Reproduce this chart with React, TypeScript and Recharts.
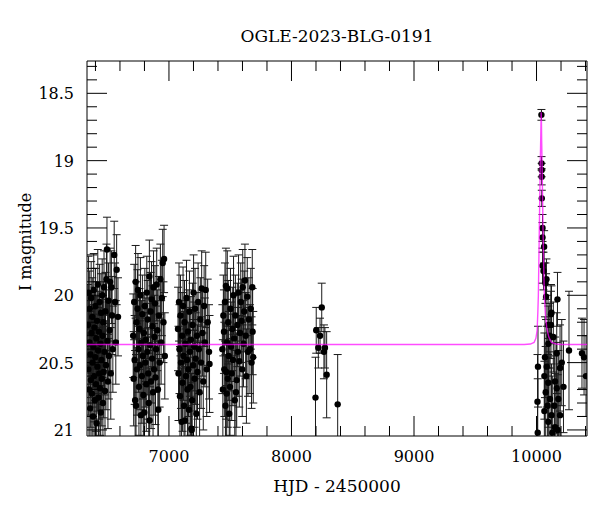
import React from 'react';
import { ScatterChart, Scatter, XAxis, YAxis, ErrorBar } from 'recharts';

const FONT = '"DejaVu Serif", "Liberation Serif", serif';

// [HJD - 2450000, I mag, error]
const season2013 = [
  [6338, 20.22, 0.30], [6341, 20.55, 0.34], [6344, 19.98, 0.27], [6347, 20.70, 0.36],
  [6350, 20.35, 0.31], [6353, 20.10, 0.28], [6356, 20.84, 0.38], [6359, 20.44, 0.32],
  [6362, 20.63, 0.35], [6365, 20.02, 0.27], [6368, 20.28, 0.30], [6371, 20.73, 0.36],
  [6374, 20.16, 0.29], [6377, 20.50, 0.33], [6380, 20.90, 0.39], [6383, 20.38, 0.31],
  [6386, 19.96, 0.27], [6389, 20.60, 0.34], [6392, 20.24, 0.30], [6395, 20.78, 0.37],
  [6398, 20.46, 0.32], [6401, 20.08, 0.28], [6404, 20.66, 0.35], [6407, 20.32, 0.31],
  [6410, 20.95, 0.40], [6413, 20.19, 0.29], [6416, 20.53, 0.33], [6419, 19.92, 0.26],
  [6422, 20.41, 0.32], [6425, 20.76, 0.37], [6428, 20.27, 0.30], [6431, 20.58, 0.34],
  [6434, 20.05, 0.28], [6437, 20.69, 0.35], [6440, 20.36, 0.31], [6443, 20.87, 0.38],
  [6446, 20.13, 0.29], [6449, 20.48, 0.33], [6452, 20.62, 0.35], [6455, 20.00, 0.27],
  [6458, 20.30, 0.31], [6461, 20.80, 0.37], [6464, 20.20, 0.30], [6467, 20.57, 0.34],
  [6470, 19.94, 0.27], [6474, 20.42, 0.32], [6478, 20.71, 0.36], [6482, 20.12, 0.29],
  [6486, 20.52, 0.33], [6490, 19.88, 0.26], [6494, 19.66, 0.24], [6498, 20.34, 0.31],
  [6502, 20.64, 0.35], [6506, 20.04, 0.28], [6510, 20.45, 0.32], [6515, 20.26, 0.30],
  [6520, 19.90, 0.25], [6525, 20.58, 0.34], [6530, 19.94, 0.27], [6536, 20.15, 0.29],
  [6542, 20.40, 0.32], [6553, 19.70, 0.25], [6560, 20.05, 0.29], [6566, 20.35, 0.31],
  [6573, 19.81, 0.26], [6584, 20.16, 0.29],
];

const season2014 = [
  [6708, 20.30, 0.31], [6712, 20.62, 0.35], [6716, 20.05, 0.28], [6720, 20.48, 0.33],
  [6724, 20.78, 0.37], [6728, 19.90, 0.27], [6731, 20.82, 0.38], [6735, 20.20, 0.30],
  [6739, 20.55, 0.34], [6743, 20.10, 0.29], [6747, 19.96, 0.27], [6751, 20.40, 0.32],
  [6755, 20.68, 0.36], [6759, 20.25, 0.30], [6763, 20.52, 0.33], [6767, 20.00, 0.28],
  [6771, 20.89, 0.39], [6775, 20.35, 0.31], [6779, 20.60, 0.35], [6783, 20.14, 0.29],
  [6787, 20.45, 0.32], [6791, 20.74, 0.37], [6795, 20.28, 0.30], [6799, 20.87, 0.38],
  [6803, 20.08, 0.28], [6807, 20.50, 0.33], [6811, 20.33, 0.31], [6815, 20.66, 0.35],
  [6819, 19.98, 0.27], [6823, 20.42, 0.32], [6827, 20.18, 0.29], [6831, 20.58, 0.34],
  [6835, 20.80, 0.37], [6840, 19.86, 0.27], [6842, 20.93, 0.39], [6846, 20.37, 0.31],
  [6850, 20.12, 0.29], [6854, 20.64, 0.35], [6858, 20.03, 0.28], [6862, 20.47, 0.33],
  [6866, 20.23, 0.30], [6870, 20.72, 0.36], [6874, 19.94, 0.27], [6878, 20.55, 0.34],
  [6882, 20.31, 0.31], [6886, 20.06, 0.28], [6890, 20.61, 0.35], [6895, 20.40, 0.32],
  [6900, 19.92, 0.27], [6905, 20.26, 0.30], [6910, 20.70, 0.36], [6913, 20.85, 0.38],
  [6918, 20.15, 0.29], [6924, 20.50, 0.33], [6930, 19.88, 0.26], [6936, 20.35, 0.31],
  [6942, 20.02, 0.28], [6949, 19.76, 0.25], [6955, 20.20, 0.30], [6960, 19.73, 0.25],
  [6966, 20.45, 0.32],
];

const season2015 = [
  [7074, 20.25, 0.31], [7078, 20.58, 0.35], [7082, 20.05, 0.29], [7086, 20.40, 0.33],
  [7090, 20.75, 0.37], [7094, 20.15, 0.30], [7098, 20.50, 0.34], [7103, 20.94, 0.40],
  [7107, 20.30, 0.32], [7111, 20.65, 0.36], [7115, 20.08, 0.29], [7119, 20.45, 0.33],
  [7123, 20.82, 0.38], [7127, 20.20, 0.31], [7131, 20.93, 0.40], [7135, 20.36, 0.32],
  [7139, 20.60, 0.35], [7143, 20.02, 0.28], [7147, 20.48, 0.34], [7151, 20.70, 0.37],
  [7155, 20.27, 0.31], [7159, 20.55, 0.35], [7163, 20.85, 0.39], [7167, 20.12, 0.30],
  [7171, 20.42, 0.33], [7175, 20.68, 0.36], [7179, 20.33, 0.32], [7183, 20.99, 0.41],
  [7186, 21.00, 0.42], [7189, 20.78, 0.38], [7193, 20.22, 0.31], [7197, 20.52, 0.34],
  [7201, 19.98, 0.28], [7205, 20.38, 0.33], [7209, 20.62, 0.36], [7213, 20.10, 0.30],
  [7218, 20.47, 0.34], [7223, 20.88, 0.39], [7228, 20.30, 0.32], [7233, 20.57, 0.35],
  [7238, 20.05, 0.29], [7244, 20.40, 0.33], [7250, 20.72, 0.37], [7256, 20.18, 0.31],
  [7262, 20.50, 0.34], [7267, 19.95, 0.28], [7273, 20.28, 0.32], [7280, 20.64, 0.36],
  [7287, 20.08, 0.30], [7293, 20.35, 0.33], [7300, 19.96, 0.28], [7308, 20.55, 0.35],
  [7316, 20.20, 0.32], [7327, 20.42, 0.35], [7331, 20.51, 0.36],
];

const season2016 = [
  [7436, 20.40, 0.33], [7440, 20.70, 0.37], [7444, 20.15, 0.30], [7449, 20.27, 0.31],
  [7452, 20.55, 0.35], [7457, 20.05, 0.29], [7461, 20.82, 0.38], [7465, 19.93, 0.28],
  [7468, 20.57, 0.35], [7471, 20.73, 0.37], [7474, 20.35, 0.32], [7476, 19.95, 0.28],
  [7480, 20.62, 0.36], [7484, 20.20, 0.31], [7488, 20.45, 0.33], [7492, 20.88, 0.39],
  [7498, 20.68, 0.36], [7502, 20.10, 0.30], [7507, 20.38, 0.33], [7512, 20.58, 0.35],
  [7517, 20.25, 0.31], [7522, 20.48, 0.34], [7527, 20.00, 0.29], [7532, 20.32, 0.32],
  [7537, 20.78, 0.37], [7542, 20.15, 0.30], [7547, 20.72, 0.36], [7553, 20.63, 0.35],
  [7558, 20.22, 0.31], [7563, 20.42, 0.33], [7568, 19.98, 0.28], [7574, 20.49, 0.34],
  [7580, 20.28, 0.32], [7586, 20.05, 0.29], [7593, 20.19, 0.31], [7598, 20.55, 0.35],
  [7602, 19.94, 0.28], [7608, 20.36, 0.32], [7614, 20.12, 0.30], [7620, 19.89, 0.27],
  [7626, 20.30, 0.32], [7632, 20.60, 0.35], [7639, 20.01, 0.29], [7645, 20.42, 0.33],
  [7652, 20.18, 0.31], [7661, 20.40, 0.33], [7668, 20.10, 0.30], [7674, 20.50, 0.34],
  [7680, 19.94, 0.28], [7683, 20.27, 0.32], [7688, 20.46, 0.34],
];

const season2018 = [
  [8196, 20.76, 0.30], [8202, 20.26, 0.17], [8219, 20.39, 0.15], [8233, 20.30, 0.13],
  [8247, 20.09, 0.18], [8265, 20.42, 0.20], [8273, 20.39, 0.15], [8287, 20.59, 0.32],
  [8377, 20.81, 0.37],
];

const season2023 = [
  [10008, 20.79, 0.35], [10010, 21.02, 0.40], [10012, 20.53, 0.30],
  [10040, 18.66, 0.04], [10041, 19.02, 0.05], [10042, 19.07, 0.05], [10042, 19.12, 0.06],
  [10043, 19.28, 0.06], [10049, 19.50, 0.10], [10049, 19.57, 0.11], [10062, 19.64, 0.12],
  [10049, 19.78, 0.13], [10057, 19.82, 0.14], [10081, 19.88, 0.15], [10073, 19.91, 0.15],
  [10078, 20.01, 0.17], [10171, 20.03, 0.20], [10122, 20.13, 0.20], [10094, 20.22, 0.22],
  [10108, 20.30, 0.24], [10118, 20.14, 0.22], [10118, 20.22, 0.25],
  [10096, 20.36, 0.28], [10137, 20.31, 0.26], [10165, 20.43, 0.30], [10206, 20.50, 0.32],
  [10220, 20.68, 0.34], [10192, 20.54, 0.32],
  [10069, 20.46, 0.30], [10083, 20.53, 0.30], [10064, 20.60, 0.32], [10096, 20.65, 0.33],
  [10075, 20.72, 0.34], [10110, 20.77, 0.35], [10091, 20.82, 0.36], [10064, 20.86, 0.37],
  [10122, 20.89, 0.38], [10151, 20.64, 0.33], [10165, 20.69, 0.34], [10178, 20.77, 0.36],
  [10145, 20.82, 0.37], [10192, 20.89, 0.38], [10096, 20.94, 0.40], [10151, 20.98, 0.40],
  [10173, 21.00, 0.41], [10129, 21.02, 0.42],
];

const season2024 = [
  [10265, 20.41, 0.44], [10371, 20.43, 0.26], [10388, 20.46, 0.28], [10404, 20.60, 0.30],
];

// point-lens model
const modelCurve = [
  [6331, 20.365], [9900, 20.365], [9950, 20.362], [9980, 20.35], [9995, 20.32],
  [10005, 20.26], [10011, 20.12], [10015, 20.0], [10019, 19.75], [10023, 19.5],
  [10027, 19.25], [10031, 19.0], [10035, 18.8], [10038, 18.64], [10040, 18.7],
  [10042, 18.85], [10045, 19.0], [10049, 19.25], [10053, 19.5], [10058, 19.75],
  [10064, 20.0], [10072, 20.14], [10083, 20.24], [10100, 20.31], [10122, 20.35],
  [10160, 20.362], [10200, 20.365], [10412, 20.365],
];

const xTicks = [
  6400, 6600, 6800, 7000, 7200, 7400, 7600, 7800, 8000, 8200, 8400, 8600, 8800,
  9000, 9200, 9400, 9600, 9800, 10000, 10200, 10400,
];
const yTicks = [
  18.3, 18.4, 18.5, 18.6, 18.7, 18.8, 18.9, 19.0, 19.1, 19.2, 19.3, 19.4, 19.5,
  19.6, 19.7, 19.8, 19.9, 20.0, 20.1, 20.2, 20.3, 20.4, 20.5, 20.6, 20.7, 20.8,
  20.9, 21.0,
];

const X_DOMAIN = [6331, 10412];
const Y_DOMAIN = [18.26, 21.045];

const observations = [
  ...season2013, ...season2014, ...season2015, ...season2016,
  ...season2018, ...season2023, ...season2024,
].map(([t, mag, err]) => ({ t, mag, err }));

const model = modelCurve.map(([t, mag]) => ({ t, mag }));

const majorX = (v: number) => v % 1000 === 0;
const majorY = (v: number) => Math.abs(v * 2 - Math.round(v * 2)) < 1e-6;

const BottomTick = ({ x, y, payload }: any) => {
  const major = majorX(payload.value);
  return (
    <g>
      <line x1={x} y1={y} x2={x} y2={y - (major ? 20 : 10)} stroke="#000" />
      {major && (
        <text x={x} y={y + 26} textAnchor="middle" fontSize={16} fontFamily={FONT} fill="#000">
          {payload.value}
        </text>
      )}
    </g>
  );
};

const TopTick = ({ x, y, payload }: any) => (
  <line x1={x} y1={y} x2={x} y2={y + (majorX(payload.value) ? 20 : 10)} stroke="#000" />
);

const LeftTick = ({ x, y, payload }: any) => {
  const major = majorY(payload.value);
  return (
    <g>
      <line x1={x} y1={y} x2={x + (major ? 20 : 10)} y2={y} stroke="#000" />
      {major && (
        <text x={x - 13} y={y + 6} textAnchor="end" fontSize={16} fontFamily={FONT} fill="#000">
          {String(Math.round(payload.value * 10) / 10)}
        </text>
      )}
    </g>
  );
};

const RightTick = ({ x, y, payload }: any) => (
  <line x1={x} y1={y} x2={x - (majorY(payload.value) ? 20 : 10)} y2={y} stroke="#000" />
);

const Dot = (p: any) => <circle cx={p.cx} cy={p.cy} r={3.2} fill="#000" />;
const NoDot = () => <g />;

// error bars are kept inside the plot frame
const clipCss = '.recharts-errorBars, .recharts-errorBar { clip-path: url(#plotFrameClip); }';

export default function App() {
  return (
    <div style={{ position: 'absolute', left: 0, top: 0, width: 600, height: 512, background: '#fff' }}>
      <style>{clipCss}</style>
      <svg width={0} height={0} style={{ position: 'absolute' }}>
        <defs>
          <clipPath id="plotFrameClip" clipPathUnits="userSpaceOnUse">
            <rect x={87} y={61} width={500} height={375} />
          </clipPath>
        </defs>
      </svg>
      <ScatterChart width={600} height={512} margin={{ top: 40, right: 0, bottom: 0, left: 0 }}>
        <XAxis
          type="number"
          dataKey="t"
          domain={X_DOMAIN}
          allowDataOverflow
          ticks={xTicks}
          interval={0}
          tickSize={0}
          tickMargin={0}
          tickLine={false}
          tick={BottomTick}
          axisLine={{ stroke: '#000' }}
          height={76}
        />
        <XAxis
          xAxisId="top"
          orientation="top"
          type="number"
          dataKey="t"
          domain={X_DOMAIN}
          allowDataOverflow
          ticks={xTicks}
          interval={0}
          tickSize={0}
          tickMargin={0}
          tickLine={false}
          tick={TopTick}
          axisLine={{ stroke: '#000' }}
          height={21}
        />
        <YAxis
          type="number"
          dataKey="mag"
          domain={Y_DOMAIN}
          reversed
          allowDataOverflow
          ticks={yTicks}
          interval={0}
          tickSize={0}
          tickMargin={0}
          tickLine={false}
          tick={LeftTick}
          axisLine={{ stroke: '#000' }}
          width={87}
        />
        <YAxis
          yAxisId="right"
          orientation="right"
          type="number"
          dataKey="mag"
          domain={Y_DOMAIN}
          reversed
          allowDataOverflow
          ticks={yTicks}
          interval={0}
          tickSize={0}
          tickMargin={0}
          tickLine={false}
          tick={RightTick}
          axisLine={{ stroke: '#000' }}
          width={13}
        />
        <Scatter data={observations} shape={Dot} isAnimationActive={false}>
          <ErrorBar dataKey="err" direction="y" width={4} stroke="#1a1a1a" strokeWidth={1} />
        </Scatter>
        <Scatter
          data={model}
          shape={NoDot}
          line={{ stroke: '#ff00ff', strokeWidth: 1.4, strokeOpacity: 0.7 }}
          lineType="joint"
          isAnimationActive={false}
        />
        {/* hidden series so the mirrored frame axes get drawn */}
        <Scatter
          xAxisId="top"
          yAxisId="right"
          data={model}
          shape={NoDot}
          isAnimationActive={false}
        />
      </ScatterChart>
      <svg width={600} height={512} style={{ position: 'absolute', left: 0, top: 0, pointerEvents: 'none' }}>
        <text x={337} y={42} textAnchor="middle" fontSize={17} fontFamily={FONT} fill="#000">
          OGLE-2023-BLG-0191
        </text>
        <text x={337} y={492} textAnchor="middle" fontSize={17} fontFamily={FONT} fill="#000">
          HJD - 2450000
        </text>
        <text
          x={31}
          y={242}
          textAnchor="middle"
          fontSize={16}
          fontFamily={FONT}
          fill="#000"
          transform="rotate(-90 31 242)"
        >
          I magnitude
        </text>
      </svg>
    </div>
  );
}
